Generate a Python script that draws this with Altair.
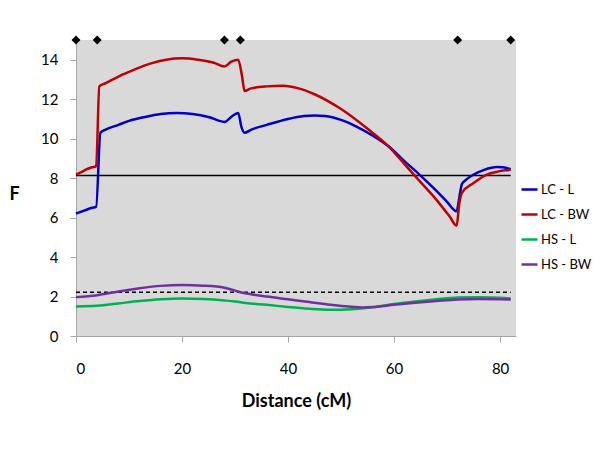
import altair as alt
import pandas as pd

# ---- data ----
lc_l_x = [0, 1, 2, 3, 3.8, 4.6, 5.5, 8, 10, 13, 16, 19, 22, 25, 28, 29.5, 30.6, 31.2, 31.8, 33, 36, 40, 43, 45, 47, 50, 53, 56, 59, 62, 65, 68, 70, 71.8, 72.3, 72.8, 73.5, 75, 77, 79.4, 80.5, 82]
lc_l_y = [6.2, 6.3, 6.4, 6.5, 6.55, 10.3, 10.45, 10.7, 10.9, 11.1, 11.25, 11.3, 11.25, 11.1, 10.85, 11.15, 11.3, 10.6, 10.3, 10.45, 10.7, 11.0, 11.15, 11.18, 11.15, 10.95, 10.6, 10.15, 9.6, 8.85, 8.13, 7.35, 6.8, 6.32, 7.0, 7.7, 7.9, 8.18, 8.42, 8.56, 8.55, 8.45]

lc_bw_x = [0, 1, 2, 3, 3.8, 4.4, 5.5, 8, 11, 14, 17, 20, 23, 26, 28, 29.3, 30.6, 31.3, 31.8, 33, 36, 39, 42, 45, 50, 55, 59, 62, 65, 68, 70.5, 71.8, 72.3, 72.8, 75, 77.5, 79.5, 81, 82]
lc_bw_y = [8.18, 8.3, 8.45, 8.55, 8.6, 12.65, 12.8, 13.15, 13.5, 13.8, 14.0, 14.07, 14.0, 13.85, 13.66, 13.9, 14.0, 13.2, 12.42, 12.55, 12.65, 12.68, 12.55, 12.25, 11.5, 10.5, 9.6, 8.7, 7.8, 6.9, 6.05, 5.59, 6.7, 7.25, 7.75, 8.18, 8.33, 8.4, 8.42]

hs_l_x = [0, 4, 8, 12, 16, 20, 24, 28, 30, 32, 36, 40, 44, 48, 52, 56, 60, 64, 68, 72, 76, 80, 82]
hs_l_y = [1.5, 1.53, 1.65, 1.77, 1.86, 1.9, 1.87, 1.8, 1.75, 1.67, 1.58, 1.47, 1.38, 1.33, 1.36, 1.46, 1.62, 1.75, 1.86, 1.95, 1.97, 1.94, 1.9]

hs_bw_x = [0, 4, 8, 12, 16, 20, 24, 28, 30, 31, 33, 36, 40, 44, 48, 52, 54, 56, 60, 64, 68, 72, 76, 80, 82]
hs_bw_y = [1.97, 2.07, 2.26, 2.42, 2.54, 2.58, 2.55, 2.45, 2.3, 2.22, 2.12, 2.0, 1.86, 1.72, 1.58, 1.48, 1.45, 1.47, 1.58, 1.68, 1.77, 1.85, 1.87, 1.86, 1.85]

series_names = ["LC - L", "LC - BW", "HS - L", "HS - BW"]
series_colors = ["#0000C8", "#C00000", "#00B050", "#7030A0"]

markers_x = [0, 4, 28, 31, 72, 82]
marker_y = 15

thresholds = [8.13, 2.22]
threshold_dash = [[1, 0], [4, 3]]
threshold_start, threshold_end = 0, 82

x_ticks = [0, 20, 40, 60, 80]
y_ticks = [0, 2, 4, 6, 8, 10, 12, 14]

# ---- build tables ----
rows = []
for name, xs, ys in zip(series_names,
                        [lc_l_x, lc_bw_x, hs_l_x, hs_bw_x],
                        [lc_l_y, lc_bw_y, hs_l_y, hs_bw_y]):
    for i, (a, b) in enumerate(zip(xs, ys)):
        rows.append({"series": name, "x": a, "y": b, "order": i})
df = pd.DataFrame(rows)

mk = pd.DataFrame({"x": markers_x, "y": [marker_y] * len(markers_x)})
th = pd.DataFrame({"y": thresholds, "x": threshold_start, "x2": threshold_end,
                   "kind": ["solid", "dashed"]})

FONT = "Lato"

xscale = alt.Scale(domain=[0, 83], nice=False, zero=False)
yscale = alt.Scale(domain=[0, 15], nice=False)

lines = alt.Chart(df).mark_line(strokeWidth=2.5, interpolate="monotone").encode(
    x=alt.X("x:Q", scale=xscale, title="Distance (cM)",
            axis=alt.Axis(values=x_ticks, grid=False, tickSize=6, labelPadding=19,
                          titlePadding=16, domainColor="#A6A6A6", tickColor="#A6A6A6",
                          labelFont=FONT, labelFontSize=15, labelColor="#000000",
                          titleFont=FONT, titleFontSize=18, titleFontWeight="bold",
                          titleColor="#000000")),
    y=alt.Y("y:Q", scale=yscale, title="F",
            axis=alt.Axis(values=y_ticks, grid=False, tickSize=6, labelPadding=12,
                          domainColor="#A6A6A6", tickColor="#A6A6A6",
                          labelFont=FONT, labelFontSize=15, labelColor="#000000",
                          titleFont=FONT, titleFontSize=18, titleFontWeight="bold",
                          titleColor="#000000", titleAngle=0, titleX=-62, titleY=154,
                          titleAlign="center", titleBaseline="middle")),
    color=alt.Color("series:N", scale=alt.Scale(domain=series_names, range=series_colors),
                    legend=alt.Legend(title=None, orient="none", legendX=444, legendY=140,
                                      symbolType="stroke", symbolSize=256,
                                      symbolStrokeWidth=2.5, labelFont=FONT,
                                      labelFontSize=13, labelColor="#000000",
                                      labelOffset=2, rowPadding=8)),
    order="order:Q",
)

rules = alt.Chart(th).mark_rule(color="black", strokeWidth=1.5).encode(
    y=alt.Y("y:Q", scale=yscale),
    x=alt.X("x:Q", scale=xscale),
    x2="x2:Q",
    strokeDash=alt.StrokeDash("kind:N", scale=alt.Scale(domain=["solid", "dashed"],
                                                        range=threshold_dash), legend=None),
)

diamonds = alt.Chart(mk).mark_point(shape="diamond", filled=True, color="black",
                                    size=80, opacity=1, clip=False).encode(
    x=alt.X("x:Q", scale=xscale),
    y=alt.Y("y:Q", scale=yscale),
)

chart = alt.layer(rules, lines, diamonds).properties(
    width=440, height=296,
    autosize=alt.AutoSizeParams(type="none"),
    padding={"left": 68, "top": 32, "right": 76, "bottom": 100},
    background="white",
).configure_view(fill="#D9D9D9", stroke=None)

chart.save("out.html", embed_options={"renderer": "svg", "actions": False})
